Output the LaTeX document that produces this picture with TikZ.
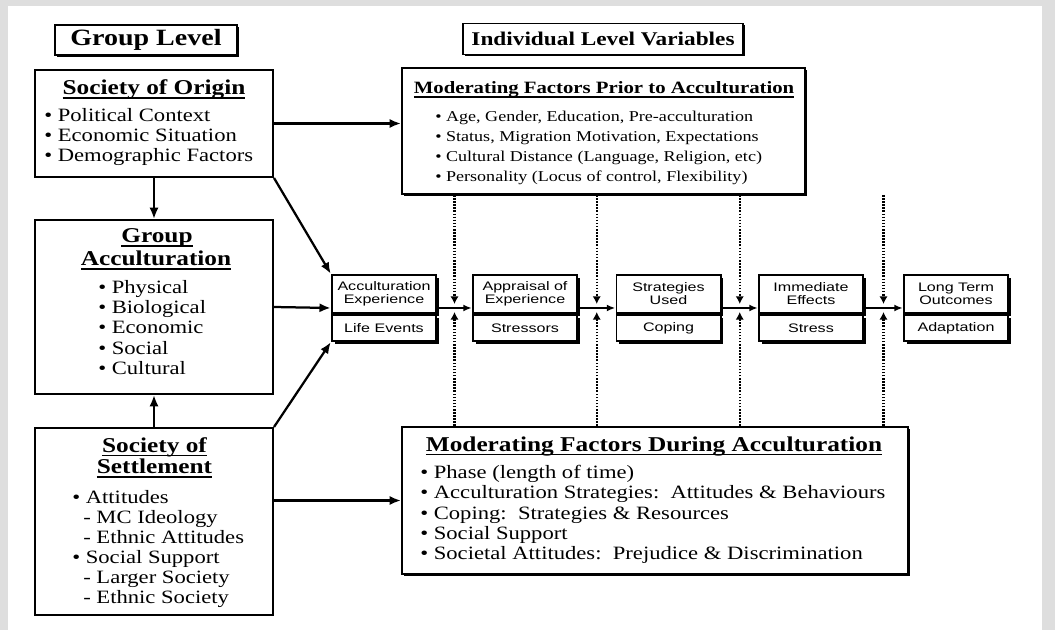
\documentclass[tikz,border=0pt]{standalone}
\usepackage{fontspec}
\setmainfont{Liberation Serif}[FakeStretch=1.2]
\newfontfamily\stagefont{Liberation Sans}[FakeStretch=1.3]
\usetikzlibrary{arrows.meta,positioning,fit,calc,shadows}
\newcommand{\ulhead}[1]{\setbox0=\hbox{#1}\rlap{\rule[-2.6pt]{\wd0}{0.9pt}}\box0}

\begin{document}
\begin{tikzpicture}[
  x=0.025cm, y=-0.025cm,
  box/.style={draw, line width=1.4pt, fill=white, inner sep=0pt},
  shd/.style={drop shadow={shadow xshift=1.2pt, shadow yshift=-1.2pt, opacity=1, fill=black}},
  lvl/.style={box, shd, font=\bfseries\fontsize{16.6}{18}\selectfont},
  head/.style={inner sep=0pt, anchor=base, font=\bfseries\fontsize{15}{17}\selectfont},
  items/.style={inner sep=0pt, anchor=north west, align=left, font=\fontsize{13.4}{14.3}\selectfont},
  stagetop/.style={box, minimum width=2.6cm, minimum height=0.95cm, align=center,
    font=\stagefont\fontsize{8.8}{9.2}\selectfont,
    drop shadow={shadow xshift=2pt, shadow yshift=-2pt, opacity=1, fill=black}},
  stagebot/.style={stagetop, minimum height=0.65cm},
  arr/.style={-{Latex[length=8pt,width=6.5pt]}, line width=1.6pt},
  sarr/.style={-{Latex[length=6pt,width=5pt]}, line width=1.4pt},
  dots/.style={dash pattern=on 1.1pt off 1.1pt, line width=1.7pt, -{Latex[length=5.5pt,width=6pt]}}
]
\useasboundingbox (0,0) rectangle (1055,630);
\fill[black!13] (0,0) rectangle (1055,630);
\fill[white] (8,6) rectangle (1042,630);

% level headers
\node[lvl, minimum width=4.55cm, minimum height=0.75cm] (glvl) at (146,40) {Group Level};
\node[lvl, minimum width=7cm, minimum height=0.775cm, font=\bfseries\fontsize{13.8}{16}\selectfont] (ilvl) at (603,39) {Individual Level Variables};

% group level boxes
\node[box, minimum width=5.95cm, minimum height=2.675cm] (orig) at (154,123.5) {};
\node[box, minimum width=5.95cm, minimum height=4.35cm] (gacc) at (154,307) {};
\node[box, minimum width=5.95cm, minimum height=4.675cm] (sett) at (154,521.5) {};
\node[head] (origt) at (154,95) {\ulhead{Society of Origin}};
\node[items] (origi) at (44,108) {\textbullet\ Political Context\\
  \textbullet\ Economic Situation\\
  \textbullet\ Demographic Factors};
\node[head] (gacct) at (157,243) {\ulhead{Group}};
\node[head] (gacct2) at (156,266) {\ulhead{Acculturation}};
\node[items, font=\fontsize{13.4}{14.4}\selectfont] (gacci) at (98,280) {\textbullet\ Physical\\
  \textbullet\ Biological\\
  \textbullet\ Economic\\
  \textbullet\ Social\\
  \textbullet\ Cultural};
\node[head] (settt) at (154.5,452.7) {\ulhead{Society of}};
\node[head] (settt2) at (154.5,474) {\ulhead{Settlement}};
\node[items] (setti) at (72,490) {\textbullet\ Attitudes\\
  \hspace*{0.275cm}- MC Ideology\\
  \hspace*{0.275cm}- Ethnic Attitudes\\
  \textbullet\ Social Support\\
  \hspace*{0.275cm}- Larger Society\\
  \hspace*{0.275cm}- Ethnic Society};

% moderating factors
\node[box, shd, minimum width=10.075cm, minimum height=3.15cm] (prior) at (603.5,131) {};
\node[head, font=\bfseries\fontsize{12.3}{14}\selectfont] (priort) at (604,94) {\ulhead{Moderating Factors Prior to Acculturation}};
\node[items, font=\fontsize{10.7}{14.4}\selectfont] (priori) at (435,110.4) {\textbullet\ Age, Gender, Education, Pre-acculturation\\
  \textbullet\ Status, Migration Motivation, Expectations\\
  \textbullet\ Cultural Distance (Language, Religion, etc)\\
  \textbullet\ Personality (Locus of control, Flexibility)};
\node[box, shd, minimum width=12.65cm, minimum height=3.675cm] (during) at (655,500.5) {};
\node[head] (durt) at (654,451.7) {\ulhead{Moderating Factors During Acculturation}};
\node[items, font=\fontsize{13.4}{14.4}\selectfont] (duri) at (420,465) {\textbullet\ Phase (length of time)\\
  \textbullet\ Acculturation Strategies:\ \ Attitudes \& Behaviours\\
  \textbullet\ Coping:\ \ Strategies \& Resources\\
  \textbullet\ Social Support\\
  \textbullet\ Societal Attitudes:\ \ Prejudice \& Discrimination};

% stages
\node[stagetop] (exp) at (384,294) {Acculturation\\Experience};
\node[stagebot, below=0pt of exp] (evt) {Life Events};
\node[stagetop] (app) at (525,294) {Appraisal of\\Experience};
\node[stagebot, below=0pt of app] (str) {Stressors};
\node[stagetop] (stg) at (668.5,294) {Strategies\\Used};
\node[stagebot, below=0pt of stg] (cop) {Coping};
\node[stagetop] (eff) at (811,294) {Immediate\\Effects};
\node[stagebot, below=0pt of eff] (sts) {Stress};
\node[stagetop] (out) at (956,294) {Long Term\\Outcomes};
\node[stagebot, below=0pt of out] (adp) {Adaptation};
\node[fit=(exp)(evt), inner sep=0pt] (stage1) {};
\node[fit=(app)(str), inner sep=0pt] (stage2) {};
\node[fit=(stg)(cop), inner sep=0pt] (stage3) {};
\node[fit=(eff)(sts), inner sep=0pt] (stage4) {};
\node[fit=(out)(adp), inner sep=0pt] (stage5) {};

% group level arrows
\draw[arr] (orig.east) -- (orig.east -| prior.west);
\draw[arr] (orig.south) -- (gacc.north);
\draw[arr] (orig.south east) -- (stage1.north west);
\draw[arr] (gacc.east) -- (stage1.west);
\draw[arr] (sett.north east) -- (stage1.south west);
\draw[arr] (sett.north) -- (gacc.south);
\draw[arr] (sett.east |- during.west) -- (during.west);

% stage arrows and moderators
\draw[sarr] (stage1.east) -- (stage2.west);
\draw[sarr] (stage2.east) -- (stage3.west);
\draw[sarr] (stage3.east) -- (stage4.west);
\draw[sarr] (stage4.east) -- (stage5.west);
\coordinate (m1) at ($(stage1.east)!0.5!(stage2.west)$);
\coordinate (m2) at ($(stage2.east)!0.5!(stage3.west)$);
\coordinate (m3) at ($(stage3.east)!0.5!(stage4.west)$);
\coordinate (m4) at ($(stage4.east)!0.5!(stage5.west)$);
\draw[dots] (m1 |- prior.south) -- ($(m1)+(0,-4)$);
\draw[dots] (m2 |- prior.south) -- ($(m2)+(0,-4)$);
\draw[dots] (m3 |- prior.south) -- ($(m3)+(0,-4)$);
\draw[dots] (m4 |- prior.south) -- ($(m4)+(0,-4)$);
\draw[dots] (m1 |- during.north) -- ($(m1)+(0,4)$);
\draw[dots] (m2 |- during.north) -- ($(m2)+(0,4)$);
\draw[dots] (m3 |- during.north) -- ($(m3)+(0,4)$);
\draw[dots] (m4 |- during.north) -- ($(m4)+(0,4)$);
\end{tikzpicture}
\end{document}
